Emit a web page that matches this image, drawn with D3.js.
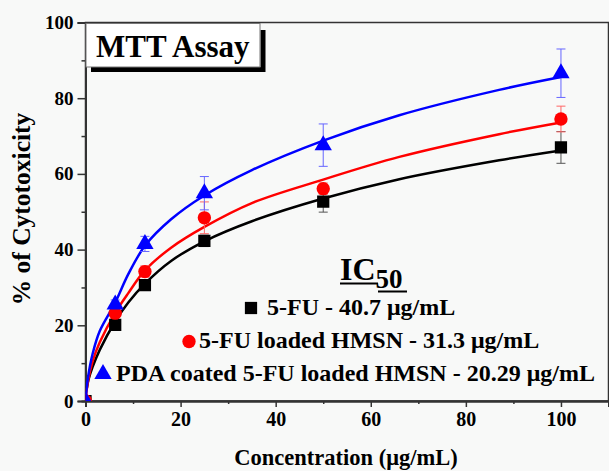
<!DOCTYPE html>
<html>
<head>
<meta charset="utf-8">
<script src="https://cdn.jsdelivr.net/npm/d3@7"></script>
<style>
  html, body { margin: 0; padding: 0; background: #f8f9f8; }
  svg text { font-family: "Liberation Serif", "Times New Roman", serif; font-weight: bold; fill: #000; }
</style>
</head>
<body>
<svg id="chart" width="609" height="471"></svg>
<script>
// measured points (concentration in ug/mL)
var conc = [0, 6.25, 12.5, 25, 50, 100];
var fuVals = [0, 20.1, 30.6, 42.3, 52.7, 67.0];
var fuErr = [0, 1, 1.2, 1.5, 2.8, 4.2];
var hmsnVals = [0, 23.2, 34.2, 48.4, 56.1, 74.5];
var hmsnErr = [0, 1, 1.5, 4.2, 1.5, 3.4];
var pdaVals = [0, 25.5, 41.5, 54.9, 67.6, 86.6];
var pdaErr = [0, 1.2, 2, 4.4, 5.6, 6.4];

// fitted curves
var fitX = [0, 0.5, 1.5, 3, 6.25, 9, 12.5, 18, 25, 35, 50, 66, 87, 100];
var fuFitX = [0.3, 0.6, 1.5, 3, 6.25, 9, 12.5, 18, 25, 35, 50, 66, 87, 100];
var fuFit = [3.5, 5.5, 9, 13.5, 21, 26, 31, 37, 42.2, 47.5, 53.5, 58.6, 63.6, 66.2];
var hmsnFit = [0, 5, 10.5, 15.5, 23.3, 28.5, 34.5, 40.5, 46, 52.3, 58.5, 64.5, 70.5, 73.6];
var pdaFit = [0, 6, 12.5, 18.5, 26, 33.5, 41, 48, 54.3, 61, 68.8, 75.5, 82.2, 85.6];

var xTicks = [0, 20, 40, 60, 80, 100];
var yTicks = [0, 20, 40, 60, 80, 100];
var legendLabels = [
    '5-FU - 40.7 \u03bcg/mL',
    '5-FU loaded HMSN - 31.3 \u03bcg/mL',
    'PDA coated 5-FU loaded HMSN - 20.29 \u03bcg/mL'
];

var series = [
    {name: 'fu', vals: fuVals, err: fuErr, fx: fuFitX, fit: fuFit, color: '#000000', errColor: '#555555', shape: 'square'},
    {name: 'hmsn', vals: hmsnVals, err: hmsnErr, fx: fitX, fit: hmsnFit, color: '#ff0000', errColor: '#ff6666', shape: 'circle'},
    {name: 'pda', vals: pdaVals, err: pdaErr, fx: fitX, fit: pdaFit, color: '#0000ff', errColor: '#6666ff', shape: 'triangle'}
];

var svg = d3.select('#chart');
var margin = {top: 22.5, right: 0.5, bottom: 70, left: 85.5};
var width = 609 - margin.left - margin.right;
var height = 471 - margin.top - margin.bottom;

var x = d3.scaleLinear().domain([0, 110]).range([0, width]);
var y = d3.scaleLinear().domain([0, 100]).range([height, 0]);

var g = svg.append('g')
    .attr('transform', 'translate(' + margin.left + ',' + margin.top + ')');

g.append('clipPath').attr('id', 'clip')
    .append('rect').attr('width', width).attr('height', height);

// Plot frame.
g.append('rect')
    .attr('width', width)
    .attr('height', height)
    .attr('fill', 'none')
    .attr('stroke', '#333')
    .attr('stroke-width', 1.5);

// Axes, outward ticks with minors.
g.append('g')
    .attr('class', 'x-axis')
    .attr('transform', 'translate(0,' + height + ')')
    .call(d3.axisBottom(x).tickValues(xTicks).tickSize(6).tickPadding(5).tickFormat(d3.format('d')));
g.append('g')
    .attr('transform', 'translate(0,' + height + ')')
    .call(d3.axisBottom(x).tickValues([10, 30, 50, 70, 90]).tickSize(3).tickFormat(''));
g.append('g')
    .attr('class', 'y-axis')
    .call(d3.axisLeft(y).tickValues(yTicks).tickSize(8).tickPadding(4).tickFormat(d3.format('d')));
g.append('g')
    .call(d3.axisLeft(y).tickValues([10, 30, 50, 70, 90]).tickSize(4).tickFormat(''));

g.selectAll('.domain').attr('stroke', '#333').attr('stroke-width', 2);
g.selectAll('.tick line').attr('stroke', '#333').attr('stroke-width', 1.5);
g.selectAll('.tick text')
    .style('font-family', '"Liberation Serif", "Times New Roman", serif')
    .style('font-weight', 'bold')
    .style('font-size', '19px')
    .attr('fill', '#000');
g.selectAll('.x-axis .tick text').style('font-size', '20px');

// Axis titles.
svg.append('text')
    .attr('x', 346)
    .attr('y', 465)
    .attr('text-anchor', 'middle')
    .style('font-size', '22.5px')
    .text('Concentration (\u03bcg/mL)');
svg.append('text')
    .attr('transform', 'translate(30,209) rotate(-90)')
    .attr('text-anchor', 'middle')
    .style('font-size', '25.5px')
    .text('% of Cytotoxicity');

var plot = g.append('g').attr('clip-path', 'url(#clip)');

// Fit curves.
var line = d3.line()
    .x(function(d) { return x(d[0]); })
    .y(function(d) { return y(d[1]); })
    .curve(d3.curveCatmullRom.alpha(0.5));
series.forEach(function(s) {
    plot.append('path')
        .datum(d3.zip(s.fx, s.fit))
        .attr('fill', 'none')
        .attr('stroke', s.color)
        .attr('stroke-width', 2.5)
        .attr('d', line);
});

// Error bars.
series.forEach(function(s) {
    var eb = plot.append('g').attr('stroke', s.errColor).attr('stroke-width', 1);
    conc.forEach(function(c, i) {
        if (!s.err[i]) return;
        var cx = x(c), y0 = y(s.vals[i] - s.err[i]), y1 = y(s.vals[i] + s.err[i]);
        eb.append('line').attr('x1', cx).attr('x2', cx).attr('y1', y0).attr('y2', y1);
        eb.append('line').attr('x1', cx - 4.5).attr('x2', cx + 4.5).attr('y1', y0).attr('y2', y0);
        eb.append('line').attr('x1', cx - 4.5).attr('x2', cx + 4.5).attr('y1', y1).attr('y2', y1);
    });
});

var symbols = {
    square: d3.symbol().type(d3.symbolSquare).size(150),
    circle: d3.symbol().type(d3.symbolCircle).size(140),
    triangle: d3.symbol().type(d3.symbolTriangle).size(130)
};

// Markers.
series.forEach(function(s) {
    plot.selectAll('path.m-' + s.name)
        .data(conc)
        .enter()
        .append('path')
        .attr('class', 'm-' + s.name)
        .attr('d', symbols[s.shape])
        .attr('fill', s.color)
        .attr('transform', function(d, i) {
            return 'translate(' + x(d) + ',' + y(s.vals[i]) + ')';
        });
});

// Title box with drop shadow.
svg.append('path')
    .attr('d', 'M91,69.5 H263 V30')
    .attr('fill', 'none')
    .attr('stroke', '#000')
    .attr('stroke-width', 5);
svg.append('rect')
    .attr('x', 86).attr('y', 23.5)
    .attr('width', 174).attr('height', 43.5)
    .attr('fill', '#fff')
    .attr('stroke', '#777')
    .attr('stroke-width', 1);
svg.append('text')
    .attr('x', 96).attr('y', 57)
    .style('font-size', '31px')
    .text('MTT Assay');

// IC50 legend.
var ic = svg.append('text').attr('x', 340).attr('y', 280).style('font-size', '32px');
ic.append('tspan').text('IC');
ic.append('tspan').attr('dy', 8).style('font-size', '27px').text('50');
svg.append('line').attr('x1', 340).attr('x2', 378).attr('y1', 283.5).attr('y2', 283.5)
    .attr('stroke', '#000').attr('stroke-width', 2);
svg.append('line').attr('x1', 378).attr('x2', 407).attr('y1', 291.5).attr('y2', 291.5)
    .attr('stroke', '#000').attr('stroke-width', 2);

var legendPos = [
    {mx: 251, my: 308, tx: 267, ty: 315},
    {mx: 189, my: 341.5, tx: 199, ty: 348},
    {mx: 103, my: 374, tx: 116, ty: 381}
];
series.forEach(function(s, i) {
    var p = legendPos[i];
    svg.append('path')
        .attr('d', symbols[s.shape])
        .attr('fill', s.color)
        .attr('transform', 'translate(' + p.mx + ',' + p.my + ')');
    svg.append('text')
        .attr('x', p.tx).attr('y', p.ty)
        .style('font-size', '24px')
        .text(legendLabels[i]);
});
</script>
</body>
</html>
